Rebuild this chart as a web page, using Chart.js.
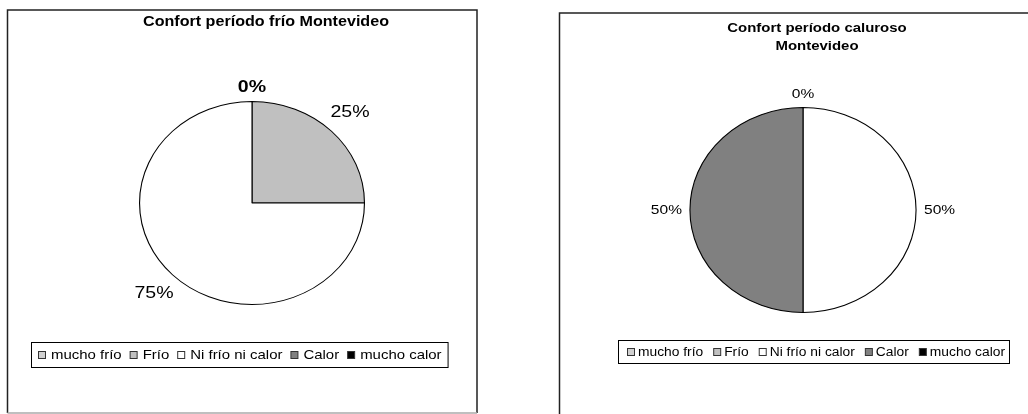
<!DOCTYPE html>
<html>
<head>
<meta charset="utf-8">
<script src="https://cdn.jsdelivr.net/npm/chart.js@4"></script>
<style>
  html, body { margin: 0; padding: 0; background: #fff; }
  body { width: 1028px; height: 414px; position: relative; overflow: hidden; }
  .panel { position: absolute; top: 0; width: 514px; height: 414px; }
</style>
</head>
<body>
<div class="panel" style="left:0"><canvas id="graficaFrio" width="514" height="414"></canvas></div>
<div class="panel" style="left:514px"><canvas id="graficaCaluroso" width="514" height="414"></canvas></div>
<script>
// Datos
const categorias = ['mucho frío', 'Frío', 'Ni frío ni calor', 'Calor', 'mucho calor'];
const valoresFrio = [0, 25, 75, 0, 0];
const valoresCaluroso = [0, 0, 50, 50, 0];
const tituloFrio = ['Confort período frío Montevideo'];
const tituloCaluroso = ['Confort período caluroso', 'Montevideo'];
const coloresSerie = ['#D0D0D0', '#C0C0C0', '#FFFFFF', '#808080', '#000000'];

const FUENTE = "'Liberation Sans', Arial, sans-serif";
const SX_TEXTO = 1.15; // el original está estirado en horizontal

function texto(ctx, str, x, y, align) {
    ctx.save();
    ctx.translate(x, y);
    ctx.scale(SX_TEXTO, 1);
    ctx.textAlign = align || 'center';
    ctx.textBaseline = 'middle';
    ctx.fillText(str, 0, 0);
    ctx.restore();
}

const pluginExcel = {
    id: 'estiloExcel',
    beforeDraw(chart, args, opts) {
        const ctx = chart.ctx;
        const m = opts.marco;
        ctx.save();
        ctx.fillStyle = '#fff';
        ctx.fillRect(0, 0, chart.width, chart.height);
        ctx.strokeStyle = '#222';
        ctx.lineWidth = 1.5;
        ctx.beginPath();
        ctx.moveTo(m.x0, m.y1);
        ctx.lineTo(m.x0, m.y0);
        ctx.lineTo(m.x1, m.y0);
        ctx.lineTo(m.x1, m.y1);
        ctx.stroke();
        if (m.abajo) {
            ctx.strokeStyle = '#aaa';
            ctx.beginPath();
            ctx.moveTo(m.x0, m.y1);
            ctx.lineTo(m.x1, m.y1);
            ctx.stroke();
        }
        ctx.restore();
    },
    beforeDatasetsDraw(chart, args, opts) {
        // la torta es una elipse en el original
        const arc = chart.getDatasetMeta(0).data[0];
        const ctx = chart.ctx;
        ctx.save();
        ctx.translate(arc.x, arc.y);
        ctx.scale(opts.rx, 1);
        ctx.translate(-arc.x, -arc.y);
    },
    afterDatasetsDraw(chart) {
        chart.ctx.restore();
    },
    afterDraw(chart, args, opts) {
        const ctx = chart.ctx;
        ctx.save();
        ctx.fillStyle = '#000';

        // título
        ctx.font = 'bold ' + opts.tituloSize + 'px ' + FUENTE;
        opts.titulo.forEach((linea, i) => {
            texto(ctx, linea, opts.tituloX, opts.tituloY + i * 18);
        });

        // etiquetas de porcentaje (las que caen en el mismo sitio se dibujan una vez)
        const meta = chart.getDatasetMeta(0);
        const datos = chart.data.datasets[0].data;
        const total = datos.reduce((a, b) => a + b, 0);
        const usadas = new Set();
        meta.data.forEach((arc, i) => {
            const str = Math.round(datos[i] / total * 100) + '%';
            const peso = (datos[i] === 0 && opts.ceroNegrita) ? 'bold ' : '';
            ctx.font = peso + opts.etiquetaSize + 'px ' + FUENTE;
            const hw = ctx.measureText(str).width * SX_TEXTO / 2;
            const hh = opts.etiquetaSize * 0.36;
            const a = (arc.startAngle + arc.endAngle) / 2;
            const c = Math.cos(a), s = Math.sin(a);
            const px = arc.x + opts.rx * arc.outerRadius * c;
            const py = arc.y + arc.outerRadius * s;
            const d = 8 + Math.abs(c) * hw + Math.abs(s) * hh;
            const lx = px + c * d, ly = py + s * d;
            const clave = Math.round(lx) + ',' + Math.round(ly);
            if (usadas.has(clave)) return;
            usadas.add(clave);
            texto(ctx, str, lx, ly);
        });

        // leyenda con recuadro
        const L = opts.leyenda;
        ctx.font = L.size + 'px ' + FUENTE;
        let x = L.x + L.pad;
        const cy = L.y + L.h / 2;
        const items = chart.data.labels.map((lab, i) => {
            const w = ctx.measureText(lab).width * SX_TEXTO;
            const it = { lab, x, w, color: coloresSerie[i] };
            x += L.sw + L.gap + w + L.itemGap;
            return it;
        });
        const ancho = x - L.itemGap + L.padDer - L.x;
        ctx.strokeStyle = '#000';
        ctx.lineWidth = 1;
        ctx.strokeRect(L.x + 0.5, L.y + 0.5, ancho, L.h);
        items.forEach(it => {
            ctx.fillStyle = it.color;
            ctx.fillRect(it.x + 0.5, cy - L.sw / 2 + 0.5, L.sw, L.sw);
            ctx.strokeStyle = '#333';
            ctx.strokeRect(it.x + 0.5, cy - L.sw / 2 + 0.5, L.sw, L.sw);
            ctx.fillStyle = '#000';
            texto(ctx, it.lab, it.x + L.sw + L.gap, cy + 1, 'left');
        });
        ctx.restore();
    }
};

function crearTorta(id, valores, padding, extra) {
    return new Chart(document.getElementById(id).getContext('2d'), {
        type: 'pie',
        data: {
            labels: categorias,
            datasets: [{
                data: valores,
                backgroundColor: coloresSerie,
                borderColor: '#000',
                borderWidth: 1
            }]
        },
        options: {
            responsive: false,
            animation: false,
            layout: { padding: padding },
            plugins: {
                legend: { display: false },
                tooltip: { enabled: false },
                estiloExcel: extra
            }
        },
        plugins: [pluginExcel]
    });
}

crearTorta('graficaFrio', valoresFrio,
    { left: 150, right: 160, top: 101, bottom: 109 },
    {
        rx: 1.108,
        marco: { x0: 7.5, y0: 10, x1: 477, y1: 413, abajo: true },
        titulo: tituloFrio, tituloSize: 14, tituloX: 266, tituloY: 22,
        etiquetaSize: 17, ceroNegrita: true,
        leyenda: { x: 31, y: 342, h: 25, size: 13, pad: 7, sw: 7, gap: 6, itemGap: 8, padDer: 6 }
    });

crearTorta('graficaCaluroso', valoresCaluroso,
    { left: 186, right: 122, top: 107, bottom: 101 },
    {
        rx: 1.103,
        marco: { x0: 45.5, y0: 13, x1: 530, y1: 430, abajo: false },
        titulo: tituloCaluroso, tituloSize: 13, tituloX: 303, tituloY: 28,
        etiquetaSize: 13.5, ceroNegrita: false,
        leyenda: { x: 104, y: 340, h: 23, size: 12, pad: 9, sw: 7, gap: 4, itemGap: 10, padDer: 4 }
    });
</script>
</body>
</html>
